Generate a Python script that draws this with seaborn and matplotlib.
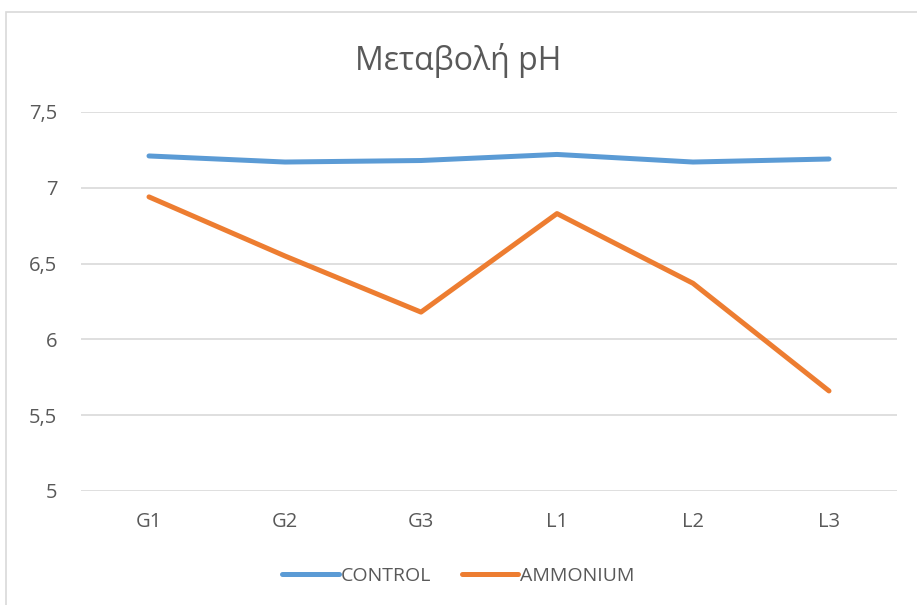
import numpy as np
import pandas as pd
import matplotlib.pyplot as plt
import seaborn as sns
from matplotlib.ticker import FuncFormatter
from matplotlib.patches import Rectangle

# Δεδομένα
categories = ["G1", "G2", "G3", "L1", "L2", "L3"]
control = [7.21, 7.17, 7.18, 7.22, 7.17, 7.19]
ammonium = [6.94, 6.55, 6.18, 6.83, 6.37, 5.66]
series_names = ["CONTROL", "AMMONIUM"]
palette = ["#5B9BD5", "#ED7D31"]

df = pd.DataFrame({
    "x": list(range(len(categories))) * 2,
    "pH": control + ammonium,
    "series": [series_names[0]] * len(categories) + [series_names[1]] * len(categories),
})

sns.set_style("white")
plt.rcParams['font.family'] = ['Open Sans', 'DejaVu Sans']
text_col = "#595959"

fig = plt.figure(figsize=(9.17, 6.05), dpi=100)
ax = fig.add_axes([81 / 917, 1 - 491 / 605, (897 - 81) / 917, (491 - 112) / 605])

sns.lineplot(data=df, x="x", y="pH", hue="series", hue_order=series_names,
             palette=palette, linewidth=3.6, ax=ax, legend=False,
             solid_capstyle="round", solid_joinstyle="round")

ax.set_xlim(-0.5, len(categories) - 0.5)
ax.set_ylim(5, 7.5)
ax.set_yticks(np.arange(5, 7.51, 0.5))
ax.yaxis.set_major_formatter(FuncFormatter(lambda v, p: f"{v:g}".replace(".", ",")))
ax.set_xticks(range(len(categories)))
ax.set_xticklabels(categories)
ax.grid(axis="y", color="#D9D9D9", linewidth=1.2)
ax.set_axisbelow(True)
for s in ax.spines.values():
    s.set_visible(False)
ax.tick_params(length=0, labelsize=14.5, colors=text_col)
ax.tick_params(axis="x", pad=15)
ax.tick_params(axis="y", pad=17)
ax.set_xlabel("")
ax.set_ylabel("")

fig.text(0.5, 1 - 61 / 605, "Μεταβολή pH", ha="center", va="center",
         fontsize=23, color=text_col)

handles = [plt.Line2D([], [], color=c, linewidth=3.6, solid_capstyle="round") for c in palette]
fig.legend(handles, series_names, loc="center", bbox_to_anchor=(0.5, 1 - 576 / 605),
           ncol=2, frameon=False, fontsize=14, labelcolor=text_col,
           handlelength=2.9, handletextpad=0.1, columnspacing=1.6)

# cadre du graphique
fig.patches.append(Rectangle((6 / 917, -0.1), 1.2, 1 - 12 / 605 + 0.1,
                             transform=fig.transFigure, fill=False,
                             edgecolor="#D9D9D9", linewidth=1.2))

fig.savefig("out.png", dpi=100)
